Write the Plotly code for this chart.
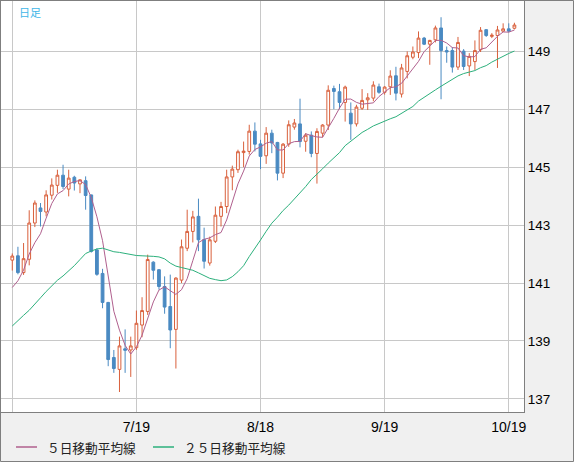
import pandas as pd
import plotly.graph_objects as go

# daily candles, 6/19 .. 10/20 (weekdays)
days = pd.bdate_range("2023-06-19", "2023-10-20").strftime("%Y-%m-%d").tolist()

open_ = [141.79, 141.94, 141.36, 141.82, 143.07, 143.59, 143.45, 144.03, 144.37, 144.72,
         144.24, 144.65, 144.42, 144.53, 144.04, 142.14, 141.33, 140.33, 138.43, 138.02,
         138.73, 138.69, 138.77, 139.55, 140.02, 141.72, 141.46, 140.88, 140.19, 139.40,
         141.10, 142.20, 142.78, 143.30, 142.50, 141.69, 142.44, 143.30, 143.64, 144.66,
         144.91, 145.50, 145.54, 146.24, 145.80, 145.39, 146.17, 145.85, 144.79, 145.79,
         146.38, 146.49, 145.89, 146.10, 145.47, 146.17, 146.45, 147.71, 147.60, 147.23,
         146.86, 146.49, 147.03, 147.32, 147.38, 147.77, 147.58, 147.77, 148.15, 147.52,
         148.30, 148.79, 148.95, 149.45, 149.24, 149.39, 149.80, 149.02, 149.02, 148.45,
         149.00, 148.49, 148.64, 149.05, 149.74, 149.51, 149.54, 149.69, 149.77, 149.79]
high = [142.02, 142.25, 142.38, 143.51, 143.85, 143.76, 144.20, 144.61, 144.91, 145.08,
        144.91, 144.70, 144.58, 144.68, 144.05, 142.20, 141.49, 140.35, 138.69, 139.15,
        139.40, 139.15, 140.05, 140.51, 141.98, 141.75, 141.48, 141.23, 141.29, 141.20,
        142.50, 143.53, 143.49, 143.91, 142.91, 142.60, 143.64, 143.80, 144.91, 145.05,
        145.60, 145.88, 146.46, 146.54, 145.94, 146.38, 146.29, 145.87, 145.83, 146.61,
        146.66, 147.36, 146.17, 146.23, 146.34, 146.48, 147.82, 147.81, 147.87, 147.81,
        147.23, 147.15, 147.69, 147.55, 147.96, 147.88, 147.79, 148.34, 148.46, 148.56,
        148.99, 149.16, 149.68, 149.49, 149.39, 149.88, 150.17, 149.16, 149.14, 149.49,
        149.07, 148.93, 149.37, 149.83, 149.76, 149.62, 149.87, 149.96, 149.96, 149.98]
low = [141.43, 141.30, 141.28, 141.61, 142.93, 142.95, 143.30, 143.88, 144.11, 144.24,
       143.99, 144.19, 144.10, 143.53, 142.05, 141.25, 140.13, 138.13, 137.90, 137.24,
       137.90, 137.76, 138.69, 139.13, 139.90, 141.12, 140.77, 139.94, 138.75, 138.05,
       141.00, 142.10, 142.40, 142.10, 141.50, 141.60, 142.38, 142.95, 143.41, 144.20,
       144.80, 145.00, 145.43, 145.54, 144.93, 145.11, 145.48, 144.54, 144.62, 145.70,
       146.29, 145.68, 145.53, 145.34, 144.43, 146.03, 146.28, 147.00, 147.00, 146.57,
       145.94, 146.40, 146.97, 146.97, 147.27, 147.53, 147.50, 147.49, 147.30, 147.40,
       148.06, 148.72, 148.76, 149.21, 148.53, 149.30, 147.34, 148.60, 148.26, 148.35,
       148.35, 148.14, 148.35, 148.97, 149.49, 149.45, 148.42, 149.66, 149.65, 149.75]
close = [141.93, 141.36, 141.84, 143.07, 143.76, 143.47, 144.04, 144.38, 144.72, 144.33,
         144.62, 144.45, 144.56, 144.02, 142.09, 141.30, 140.33, 138.36, 138.05, 138.83,
         138.68, 138.83, 139.61, 140.05, 141.81, 141.44, 140.88, 140.17, 139.38, 141.17,
         142.25, 142.78, 143.28, 142.49, 141.75, 142.49, 143.34, 143.64, 144.66, 144.93,
         145.53, 145.55, 146.24, 145.79, 145.37, 146.17, 145.83, 144.79, 145.79, 146.46,
         146.52, 145.88, 146.10, 145.47, 146.23, 146.45, 147.65, 147.61, 147.23, 147.76,
         146.49, 147.07, 147.30, 147.39, 147.83, 147.58, 147.76, 148.14, 147.55, 148.42,
         148.84, 148.97, 149.45, 149.24, 149.37, 149.80, 149.02, 148.97, 148.45, 149.30,
         148.47, 148.82, 149.02, 149.72, 149.54, 149.55, 149.73, 149.77, 149.69, 149.90]

# closes before 6/19 - only seen through where the two averages start
pre_close = [136.4, 137.6, 138.7, 137.9, 138.6, 138.6, 139.3, 140.1, 140.6, 140.4,
             139.8, 139.3, 138.8, 139.9, 139.6, 139.6, 140.1, 139.4, 139.4, 139.6,
             140.2, 140.0, 140.3, 141.8]

tick_days = ["2023-06-19", "2023-07-19", "2023-08-18", "2023-09-19", "2023-10-19"]
tick_text = ["", "7/19", "8/18", "9/19", "10/19"]
price_ticks = [137, 139, 141, 143, 145, 147, 149]

UP = "#d9603c"
DOWN = "#4a8ac2"
MA5_COL = "#b0608e"
MA25_COL = "#2cb07c"
GRID = "#c8c8c8"
FRAME = "#7f7f7f"

s = pd.Series(pre_close + close)
ma5 = s.rolling(5).mean().iloc[len(pre_close):].tolist()
ma25 = s.rolling(25).mean().iloc[len(pre_close):].tolist()

W, H = 574, 462
L, R, T, B = 1, 50, 1, 50
PW, PH = W - L - R, H - T - B


def px(x):
    return (x - L) / PW


def py(y):
    return (H - B - y) / PH


fig = go.Figure()
fig.add_trace(go.Candlestick(
    x=days, open=open_, high=high, low=low, close=close,
    increasing=dict(line=dict(color=UP, width=1), fillcolor="white"),
    decreasing=dict(line=dict(color=DOWN, width=1), fillcolor=DOWN),
    showlegend=False, hoverinfo="skip"))
fig.add_trace(go.Scatter(x=days, y=ma5, mode="lines", name="５日移動平均線",
                         line=dict(color=MA5_COL, width=1), showlegend=False))
fig.add_trace(go.Scatter(x=days, y=ma25, mode="lines", name="２５日移動平均線",
                         line=dict(color=MA25_COL, width=1), showlegend=False))

fig.update_layout(
    width=W, height=H,
    margin=dict(l=L, r=R, t=T, b=B),
    paper_bgcolor="#f0f0f0",
    plot_bgcolor="white",
    font=dict(family="Liberation Sans, Arial, sans-serif", size=13, color="black"),
    xaxis=dict(type="category", range=[-2.0, 90.7], tickvals=tick_days, ticktext=tick_text,
               showgrid=True, gridcolor=GRID, gridwidth=1, ticks="",
               tickfont=dict(size=14), ticklabelstandoff=2,
               showline=True, linecolor=FRAME, mirror=True,
               rangeslider=dict(visible=False), fixedrange=True),
    yaxis=dict(side="right", range=[136.55, 150.73], tickvals=price_ticks,
               showgrid=True, gridcolor=GRID, gridwidth=1, ticks="",
               tickfont=dict(size=13.5),
               showline=True, linecolor=FRAME, mirror=True, zeroline=False),
)

# outer frame of the whole panel
fig.add_shape(type="rect", xref="paper", yref="paper",
              x0=px(0.5), x1=px(W - 0.5), y0=py(H - 0.5), y1=py(0.5),
              line=dict(color=FRAME, width=1), layer="above")

fig.add_annotation(text="日足", xref="paper", yref="paper", x=px(17), y=py(12),
                   xanchor="left", yanchor="middle", showarrow=False,
                   font=dict(family="Noto Sans CJK JP", size=11, color="#3fb6e8"))

# legend along the bottom
leg_y = 447
for x0, x1, tx, col, label in [(16, 37, 45, MA5_COL, "５日移動平均線"),
                               (153, 174, 181.5, MA25_COL, "２５日移動平均線")]:
    fig.add_shape(type="line", xref="paper", yref="paper",
                  x0=px(x0), x1=px(x1), y0=py(leg_y), y1=py(leg_y),
                  line=dict(color=col, width=1.5))
    fig.add_annotation(text=label, xref="paper", yref="paper", x=px(tx), y=py(leg_y + 0.5),
                       xanchor="left", yanchor="middle", showarrow=False,
                       font=dict(family="Noto Sans CJK JP", size=12.7, color="#222222"))

# page margin off so the panel sits at the window corner
fig.write_html("out.html", config={"displayModeBar": False},
               post_script="document.body.style.margin='0';")
